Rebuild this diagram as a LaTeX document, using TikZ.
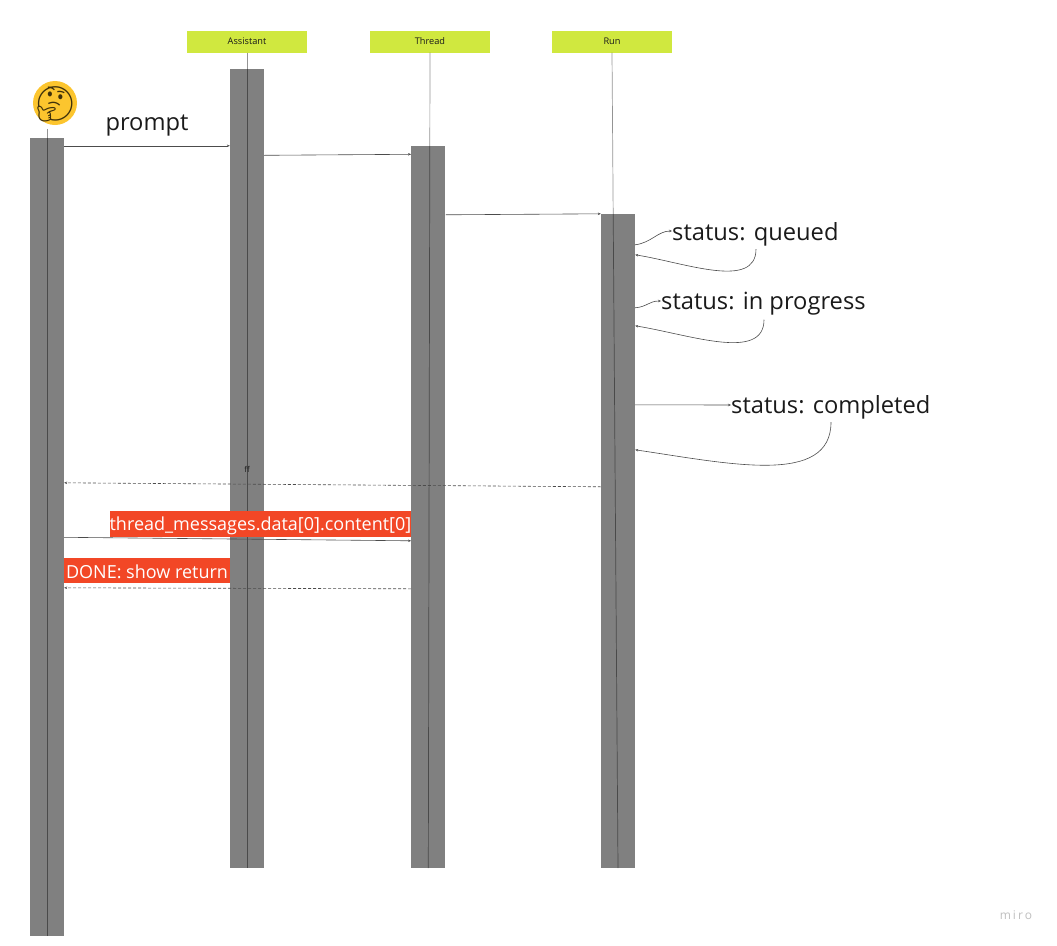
\documentclass[tikz,border=0pt]{standalone}
\usepackage{fontspec}
\setmainfont{Open Sans}
\newfontfamily\emojifont{Noto Emoji}
\usetikzlibrary{arrows.meta}
\definecolor{headGreen}{HTML}{d0e83f}
\definecolor{barGray}{HTML}{808080}
\definecolor{noteRed}{HTML}{f24726}
\definecolor{emojiYellow}{HTML}{fcc52e}
\definecolor{inkDark}{HTML}{1a1a1a}
\tikzset{
    head/.style={fill=headGreen, minimum width=120pt, minimum height=22pt, inner sep=0pt, text=inkDark, font=\fontsize{9.2}{10}\selectfont},
    bar/.style={fill=barGray, minimum width=34pt, inner sep=0pt},
    lifeline/.style={black, opacity=0.42, line width=0.7pt},
    msg/.style={black!70, line width=0.6pt, -{Stealth[length=3pt,width=2.5pt]}},
    back/.style={msg, dash pattern=on 3pt off 2pt},
    status/.style={anchor=west, inner sep=0pt, text=inkDark, font=\fontsize{23.7}{28}\selectfont},
    note/.style={fill=noteRed, text=white, inner sep=0pt, font=\fontsize{18}{22}\selectfont}
}
\begin{document}
\begin{tikzpicture}[x=1pt, y=-1pt]
    \useasboundingbox (0,0) rectangle (1057,945);

    \node[head] (headAssistant) at (247,41.5) {Assistant};
    \node[head] (headThread) at (430,41.5) {Thread};
    \node[head] (headRun) at (612,41.5) {Run};

    \node[bar, minimum height=798pt] (barUser) at (47,537) {};
    \node[bar, minimum height=799pt] (barAssistant) at (247,468.5) {};
    \node[bar, minimum height=722pt] (barThread) at (428.3,507) {};
    \node[bar, minimum height=654pt] (barRun) at (618,541) {};

    \node[circle, fill=emojiYellow, minimum size=44pt, inner sep=0pt] (thinker) at (55,103) {};
    \node[inner sep=0pt, text=black!75!emojiYellow, font=\emojifont\fontsize{34}{36}\selectfont] (thinkerFace) at (55,104) {🤔};

    \draw[lifeline] (headAssistant.south) -- (barAssistant.south);
    \draw[lifeline] (headThread.south) -- (barThread.south);
    \draw[lifeline] (headRun.south) -- (barRun.south);
    \draw[lifeline] ([yshift=9pt]barUser.north) -- (barUser.south);

    \node[inner sep=0pt, text=inkDark, font=\fontsize{23.7}{28}\selectfont] (promptLabel) at (147,125.5) {prompt};
    \node[status] (queuedLabel) at (672,234) {status: queued};
    \node[status] (progressLabel) at (661,304) {status: in progress};
    \node[status] (completedLabel) at (731,407) {status: completed};

    \node[inner sep=0pt, text=inkDark, font=\fontsize{8}{9}\selectfont] (ffLabel) at (247,469) {ff};
    \node[note, minimum width=301pt, text height=19pt, text depth=7pt] (contentLabel) at (260.5,524) {thread\_messages.data[0].content[0]};
    \node[note, minimum width=166pt, text height=20pt, text depth=5pt] (doneLabel) at (147,570.5) {DONE: show return};
    \node[text=black!25, inner sep=0pt, font=\fontsize{12}{14}\selectfont] (miroLabel) at (1016,915) {m\,i\,r\,o};

    \draw[msg] ([yshift=-8pt]barUser.north east) -- ([yshift=-77pt]barAssistant.north west);
    \draw[msg] ([yshift=-86.5pt]barAssistant.north east) -- ([yshift=-8.5pt]barThread.north west);
    \draw[msg] ([yshift=-69pt]barThread.north east) -- (barRun.north west);

    \draw[msg] ([yshift=-31pt]barRun.north east) .. controls +(16,-2) and +(-14,0) .. ([yshift=3pt]queuedLabel.west);
    \draw[msg] ([xshift=84pt,yshift=-3pt]queuedLabel.south west) .. controls +(0,41) and +(50,8) .. ([yshift=-41pt]barRun.north east);
    \draw[msg] ([yshift=-94pt]barRun.north east) .. controls +(12,-1) and +(-12,0) .. ([yshift=3pt]progressLabel.west);
    \draw[msg] ([xshift=103pt,yshift=-4pt]progressLabel.south west) .. controls +(0,42) and +(55,9) .. ([yshift=-112pt]barRun.north east);
    \draw[msg] ([yshift=-191pt]barRun.north east) -- ([yshift=2pt]completedLabel.west);
    \draw[msg] ([xshift=100pt,yshift=-3pt]completedLabel.south west) .. controls +(0,64) and +(95,14) .. ([yshift=-236pt]barRun.north east);

    \draw[back] ([yshift=-273pt]barRun.north west) -- ([yshift=-345pt]barUser.north east);
    \draw[msg] ([yshift=-399.5pt]barUser.north east) -- ([yshift=-395pt]barThread.north west);
    \draw[back] ([yshift=-443pt]barThread.north west) -- ([yshift=-450pt]barUser.north east);
\end{tikzpicture}
\end{document}
